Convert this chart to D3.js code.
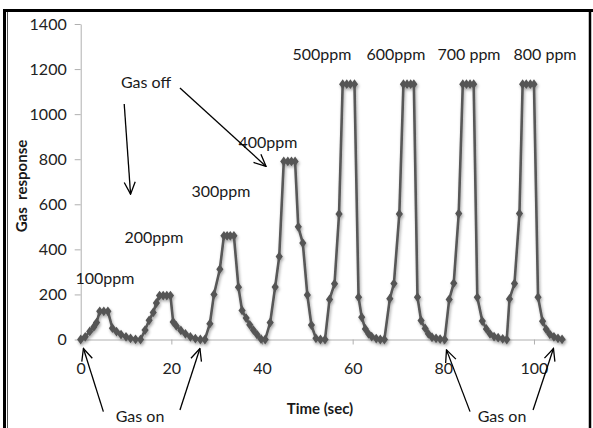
<!DOCTYPE html>
<html>
<head>
<style>
  body { margin: 0; background: #fff; }
  svg text { font-family: Lato, "Open Sans", sans-serif; fill: #1a1a1a; }
  .axis path, .axis line { stroke: #b0b0b0; }
  .axis text { font-size: 16px; fill: #222; }
  .note { font-size: 16px; }
  .title { font-size: 15px; font-weight: bold; }
</style>
<script src="https://d3js.org/d3.v7.min.js"></script>
</head>
<body>
<svg width="593" height="428"></svg>
<script>
// time (sec) and gas response
var times = [
  0, 1, 2, 2.9, 3.5, 4.2, 5.1, 6.0, 7.0, 7.9, 8.9, 10.0, 11.0, 12.1, 13.2,
  14.2, 15.1, 16.0, 16.7, 17.4, 18.2, 19.0, 19.8, 20.4, 21.1, 22.1, 23.1, 24.2, 25.3, 26.4, 27.4,
  28.5, 29.4, 30.7, 31.6, 32.3, 33.0, 33.8, 34.8, 35.6, 36.5, 37.3, 38.1, 38.9, 39.8, 40.7,
  41.8, 42.9, 43.8, 44.8, 45.7, 46.5, 47.3, 48.0, 49.0, 50.0, 50.9, 51.9, 52.9, 53.9,
  54.9, 56.0, 57.0, 57.8, 58.7, 59.5, 60.4, 61.3, 62.0, 62.8, 63.5, 64.2, 65.2, 66.1, 67.0,
  68.2, 69.1, 70.3, 71.2, 72.0, 72.8, 73.5, 74.3, 75.1, 76.0, 76.7, 77.5, 78.4, 79.3, 80.3,
  81.3, 82.3, 83.4, 84.3, 85.1, 85.9, 86.7, 87.5, 88.6, 89.5, 90.3, 91.2, 92.1, 93.1, 94.0,
  94.6, 95.7, 96.8, 97.5, 98.3, 99.2, 100.0, 100.9, 101.9, 102.7, 103.5, 104.4, 105.3, 106.2
];
var response = [
  0, 12, 36, 56, 75, 125, 125, 125, 50, 35, 22, 12, 5, 1, 0,
  42, 85, 120, 162, 195, 195, 195, 195, 78, 60, 40, 25, 12, 4, 0, 0,
  70, 200, 312, 460, 460, 460, 460, 232, 129, 95, 65, 42, 22, 2, 0,
  75, 233, 368, 790, 790, 790, 790, 500, 428, 198, 64, 5, 0, 0,
  178, 247, 557, 1133, 1133, 1133, 1133, 188, 99, 47, 25, 13, 4, 0, 0,
  181, 248, 557, 1133, 1133, 1133, 1133, 188, 84, 49, 25, 10, 5, 2, 0,
  178, 250, 559, 1133, 1133, 1133, 1133, 187, 82, 47, 25, 13, 8, 3, 0,
  180, 248, 559, 1133, 1133, 1133, 1133, 188, 81, 45, 23, 12, 5, 1
];
var xTicks = [0, 20, 40, 60, 80, 100];
var yTicks = [0, 200, 400, 600, 800, 1000, 1200, 1400];

// concentration labels [text, cx, cy] and arrows in data units
var ppmLabels = [
  ["100ppm", 105, 277], ["200ppm", 154, 236], ["300ppm", 221, 190],
  ["400ppm", 268, 141], ["500ppm", 322, 53], ["600ppm", 396, 53],
  ["700 ppm", 469, 53], ["800 ppm", 545, 53]
];
var arrows = [
  [9.6, 1045, 11.0, 645],
  [21.9, 1116, 40.9, 768],
  [5.0, -320, 0.6, -40],
  [21.9, -313, 26.3, -40],
  [85.9, -320, 80.7, -46],
  [99.8, -313, 104.3, -40]
];

var svg = d3.select("svg");
var x = d3.scaleLinear().domain([0, 107]).range([80.7, 565.7]);
var y = d3.scaleLinear().domain([0, 1400]).range([339.5, 24]);

// frame
svg.append("line").attr("x1", 3).attr("x2", 593).attr("y1", 10.5).attr("y2", 10.5)
  .attr("stroke", "#000").attr("stroke-width", 3);
svg.append("line").attr("x1", 4.5).attr("x2", 4.5).attr("y1", 9).attr("y2", 428)
  .attr("stroke", "#000").attr("stroke-width", 3);
svg.append("line").attr("x1", 7.5).attr("x2", 7.5).attr("y1", 12).attr("y2", 428)
  .attr("stroke", "#555").attr("stroke-width", 1);
svg.append("line").attr("x1", 590).attr("x2", 590).attr("y1", 9).attr("y2", 428)
  .attr("stroke", "#000").attr("stroke-width", 2.5);

var defs = svg.append("defs");
var f = defs.append("filter").attr("id", "shadow")
  .attr("x", "-10%").attr("y", "-10%").attr("width", "130%").attr("height", "130%");
f.append("feDropShadow").attr("dx", 1).attr("dy", 2).attr("stdDeviation", 1.4)
  .attr("flood-color", "#000").attr("flood-opacity", 0.35);
defs.append("marker").attr("id", "head")
  .attr("viewBox", "0 0 14 14").attr("refX", 13).attr("refY", 7)
  .attr("markerWidth", 14).attr("markerHeight", 14)
  .attr("markerUnits", "userSpaceOnUse").attr("orient", "auto")
  .append("path").attr("d", "M1,1.5 L13,7 L1,12.5")
  .attr("fill", "none").attr("stroke", "#000").attr("stroke-width", 1.3);

// axes
var yAxis = svg.append("g").attr("class", "axis")
  .attr("transform", "translate(" + x(0) + ",0)")
  .call(d3.axisLeft(y).tickValues(yTicks).tickFormat(d3.format("d"))
    .tickSize(6).tickSizeOuter(0).tickPadding(8));
var xAxis = svg.append("g").attr("class", "axis")
  .attr("transform", "translate(0," + y(0) + ")")
  .call(d3.axisBottom(x).tickValues(xTicks).tickFormat(d3.format("d"))
    .tickSize(5).tickSizeOuter(0).tickPadding(18));
xAxis.selectAll(".tick").filter(function(d) { return d === 0; }).select("line").remove();

// series
var pts = times.map(function(t, i) { return [t, response[i]]; });
var series = svg.append("g").attr("filter", "url(#shadow)");
series.append("path").datum(pts)
  .attr("d", d3.line().x(function(d) { return x(d[0]); }).y(function(d) { return y(d[1]); }))
  .attr("fill", "none").attr("stroke", "#585858").attr("stroke-width", 2.6);
series.selectAll(".pt").data(pts).enter().append("path")
  .attr("class", "pt")
  .attr("transform", function(d) { return "translate(" + x(d[0]) + "," + y(d[1]) + ") scale(1.15,0.9)"; })
  .attr("d", d3.symbol().type(d3.symbolDiamond).size(34))
  .attr("fill", "#555");

// annotations
svg.selectAll(".ppm").data(ppmLabels).enter().append("text")
  .attr("class", "note")
  .attr("x", function(d) { return d[1]; }).attr("y", function(d) { return d[2]; })
  .attr("text-anchor", "middle").attr("dominant-baseline", "central")
  .text(function(d) { return d[0]; });

svg.selectAll(".arrow").data(arrows).enter().append("line")
  .attr("x1", function(d) { return x(d[0]); }).attr("y1", function(d) { return y(d[1]); })
  .attr("x2", function(d) { return x(d[2]); }).attr("y2", function(d) { return y(d[3]); })
  .attr("stroke", "#000").attr("stroke-width", 1.3)
  .attr("marker-end", "url(#head)");

svg.append("text").attr("class", "note").attr("x", 146).attr("y", 81)
  .attr("text-anchor", "middle").attr("dominant-baseline", "central").text("Gas off");
svg.append("text").attr("class", "note").attr("x", 140).attr("y", 415)
  .attr("text-anchor", "middle").attr("dominant-baseline", "central").text("Gas on");
svg.append("text").attr("class", "note").attr("x", 502).attr("y", 415)
  .attr("text-anchor", "middle").attr("dominant-baseline", "central").text("Gas on");

svg.append("text").attr("class", "title").attr("x", 320).attr("y", 408)
  .attr("text-anchor", "middle").attr("dominant-baseline", "central").text("Time (sec)");
svg.append("text").attr("class", "title")
  .attr("transform", "translate(21,186) rotate(-90)")
  .attr("text-anchor", "middle").attr("dominant-baseline", "central")
  .attr("xml:space", "preserve").style("white-space", "pre").text("Gas  response");
</script>
</body>
</html>
